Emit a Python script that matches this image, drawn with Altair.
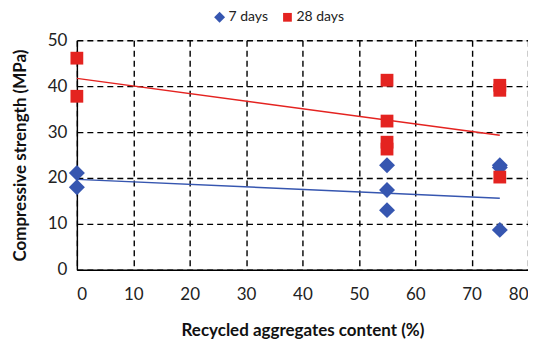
import altair as alt
import pandas as pd

# Scatter data
x7 = [0, 0, 55, 55, 55, 75, 75, 75]
y7 = [21.1, 18.0, 22.8, 17.4, 13.0, 22.8, 22.3, 8.7]
x28 = [0, 0, 55, 55, 55, 55, 75, 75, 75]
y28 = [46.1, 37.8, 41.3, 32.4, 27.8, 26.3, 40.2, 39.1, 20.2]

# Trend line endpoints
trend_x = [0, 75]
trend7 = [19.7, 15.6]
trend28 = [41.7, 29.3]

series_names = ["7 days", "28 days"]
colors = ["#3656B0", "#E42320"]

pts = pd.DataFrame(
    {"x": x7 + x28,
     "y": y7 + y28,
     "s": ["7 days"] * len(x7) + ["28 days"] * len(x28)}
)
t7 = pd.DataFrame({"x": trend_x, "y": trend7})
t28 = pd.DataFrame({"x": trend_x, "y": trend28})

font = "Lato"

xscale = alt.Scale(domain=[0, 80], nice=False)
yscale = alt.Scale(domain=[0, 50], nice=False)
cscale = alt.Scale(domain=series_names, range=colors)
shscale = alt.Scale(domain=series_names,
                    range=["diamond", "M-0.8,-0.8H0.8V0.8H-0.8Z"])

xaxis = alt.Axis(
    values=list(range(0, 81, 10)), title="Recycled aggregates content (%)",
    grid=True, gridDash=[6, 4], gridColor="#000000", gridWidth=1.4,
    domainColor="#000000", domainWidth=1.4, ticks=False,
    labelFontSize=17, labelColor="#222", labelPadding=17, labelFont=font,
    titleFont=font, titleFontSize=17, titleFontWeight="bold", titleColor="#111",
    titlePadding=20,
)
yaxis = alt.Axis(
    values=list(range(0, 51, 10)), title="Compressive strength (MPa)",
    grid=True, gridDash=[6, 4], gridColor="#000000", gridWidth=1.4,
    domainColor="#000000", domainWidth=1.4, ticks=False,
    labelFontSize=17, labelColor="#222", labelPadding=10, labelFont=font,
    titleFont=font, titleFontSize=17, titleFontWeight="bold", titleColor="#111",
    titlePadding=18,
)

line7 = alt.Chart(t7).mark_line(strokeWidth=1.5, color=colors[0]).encode(
    x=alt.X("x:Q", scale=xscale, axis=xaxis),
    y=alt.Y("y:Q", scale=yscale, axis=yaxis),
)
line28 = alt.Chart(t28).mark_line(strokeWidth=1.5, color=colors[1]).encode(
    x=alt.X("x:Q", scale=xscale),
    y=alt.Y("y:Q", scale=yscale),
)

legend = alt.Legend(
    title=None, orient="none", legendX=136, legendY=-30,
    direction="horizontal", labelFont=font, labelFontSize=14,
    labelColor="#222", symbolSize=120, columnPadding=12, labelOffset=2,
)

points = alt.Chart(pts).mark_point(filled=True, opacity=1, size=256).encode(
    x=alt.X("x:Q", scale=xscale),
    y=alt.Y("y:Q", scale=yscale),
    color=alt.Color("s:N", scale=cscale, legend=legend),
    shape=alt.Shape("s:N", scale=shscale, legend=legend),
)

chart = alt.layer(line7, line28, points).properties(
    width=452, height=230,
    autosize=alt.AutoSizeParams(type="none"),
    padding={"left": 69, "top": 32, "right": 0, "bottom": 74},
).configure_view(stroke="#000000", strokeWidth=1.4).configure(background="white")

chart.save("out.html", embed_options={"renderer": "svg", "actions": False})
